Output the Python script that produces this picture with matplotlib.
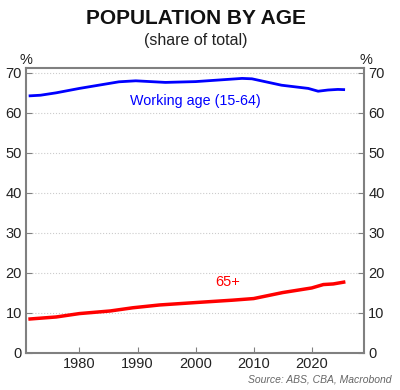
import matplotlib.pyplot as plt

plt.rcParams['font.family'] = ['Liberation Sans', 'DejaVu Sans']

# working age share (15-64), % of total
wa_years = [1971.5, 1973.3, 1976, 1980, 1986.8, 1989.7, 1994.8, 2000, 2008, 2009.7,
            2014.8, 2019.4, 2021.1, 2022.8, 2024.5, 2025.5]
wa_share = [64.25, 64.4, 65.0, 66.1, 67.75, 68.0, 67.6, 67.8, 68.6, 68.5,
            66.9, 66.1, 65.4, 65.7, 65.85, 65.8]

# 65+ share, % of total
old_years = [1971.5, 1976, 1980, 1985.3, 1989.2, 1993.8, 2000, 2006.4, 2010, 2015,
             2020, 2022, 2023.7, 2025.5]
old_share = [8.5, 9.0, 9.85, 10.5, 11.3, 12.0, 12.6, 13.2, 13.6, 15.1,
             16.25, 17.1, 17.25, 17.7]

yticks = [0, 10, 20, 30, 40, 50, 60, 70]
xticks = [1980, 1990, 2000, 2010, 2020]

fig = plt.figure(figsize=(4, 3.9), dpi=100)
ax = fig.add_axes([26 / 400, 1 - 353 / 390, (364 - 26) / 400, (353 - 68) / 390])

ax.plot(wa_years, wa_share, color='#0000ff', lw=2)
ax.plot(old_years, old_share, color='#ff0000', lw=2.5)

ax.text(2000, 63.0, 'Working age (15-64)', color='#0000ff', fontsize=10.3,
        ha='center', va='center')
ax.text(2005.5, 17.8, '65+', color='#ff0000', fontsize=10.5, ha='center', va='center')

ax.set_xlim(1970.8, 2029)
ax.set_ylim(0, 71.2)
ax.set_xticks(xticks)
ax.set_yticks(yticks)
ax.grid(axis='y', color='#cccccc', linestyle=':', lw=0.8)
ax.tick_params(direction='in', length=4, color='#808080', labelsize=10.5,
               labelcolor='#222222', right=True, labelright=True, pad=3)
ax.tick_params(axis='x', pad=3)
for s in ax.spines.values():
    s.set_color('#808080')
    s.set_linewidth(1.5)

fig.text(26 / 400, 1 - 60 / 390, '%', fontsize=10.5, color='#222222', ha='center', va='center')
fig.text(366 / 400, 1 - 60 / 390, '%', fontsize=10.5, color='#222222', ha='center', va='center')

fig.text(0.49, 1 - 18 / 390, 'POPULATION BY AGE', fontsize=15, fontweight='bold',
         ha='center', va='center', color='#111111')
fig.text(0.49, 1 - 40 / 390, '(share of total)', fontsize=11.5,
         ha='center', va='center', color='#222222')
fig.text(391 / 400, 1 - 379 / 390, 'Source: ABS, CBA, Macrobond', fontsize=7.5,
         style='italic', color='#666666', ha='right', va='center')

fig.savefig('out.png')
